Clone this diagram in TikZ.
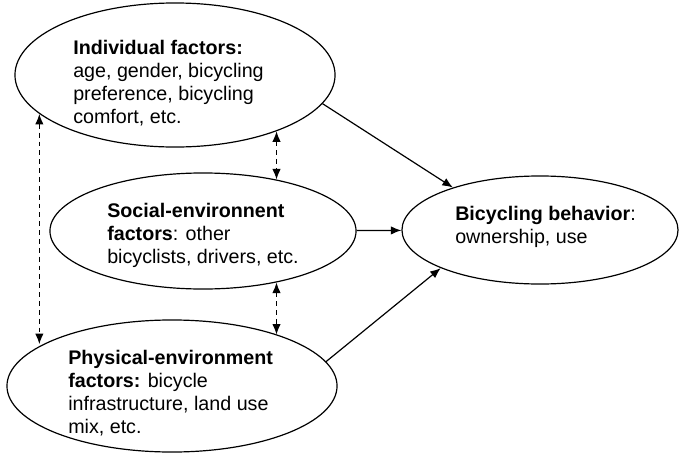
\documentclass[tikz,border=0pt]{standalone}
\usepackage{fontspec}
\setmainfont{Liberation Sans}
\usepackage{tikz}
\usetikzlibrary{shapes.geometric}
\usetikzlibrary{arrows.meta}
\def\fs{\fontsize{14}{16.4}\selectfont}

\begin{document}
\begin{tikzpicture}[x=0.025cm,y=-0.025cm,
    factor/.style={draw,ellipse,line width=0.85pt,inner sep=0pt},
    txt/.style={anchor=west,align=left,inner sep=0pt,font=\fs},
    link/.style={line width=0.85pt,->},
    mutual/.style={line width=0.9pt,<->,dash pattern=on 3.5pt off 2.8pt},
    >={Latex[length=7.5pt,width=6pt]}]

  \useasboundingbox (0,0) rectangle (680,454); %描画範囲

  % 個人要因
  \node[factor,minimum width=8cm,minimum height=3.6cm] (ind) at (175,75) {}; %楕円
  \node[txt] (indtxt) at (73,83) {\textbf{Individual factors:}\\age, gender, bicycling\\preference, bicycling\\comfort, etc.}; %文字

  % 社会環境要因
  \node[factor,minimum width=7.65cm,minimum height=2.9cm] (soc) at (203,231) {}; %楕円
  \node[txt] (soctxt) at (107,235) {\textbf{Social-environnent}\\\textbf{factors}: other\\bicyclists, drivers, etc.}; %文字

  % 物理環境要因
  \node[factor,minimum width=8.25cm,minimum height=3.3cm] (phys) at (172,386) {}; %楕円
  \node[txt] (phystxt) at (68,393) {\textbf{Physical-environment}\\\textbf{factors:} bicycle\\infrastructure, land use\\mix, etc.}; %文字

  % 自転車行動
  \node[factor,minimum width=6.9cm,minimum height=2.7cm] (beh) at (540,230) {}; %楕円
  \node[txt] (behtxt) at (455,227) {\textbf{Bicycling behavior}:\\ownership, use}; %文字

  % 行動への矢印
  \draw[link] (ind.-11.5)--(beh.154);
  \draw[link] (soc)--(beh);
  \draw[link] (phys.9)--(beh.-159.5);

  % 要因どうしの点線
  \draw[mutual] (ind.196)--(ind.196 |- phys.162);
  \draw[mutual] (ind.-29.5)--(ind.-29.5 |- soc.35.5);
  \draw[mutual] (soc.-35.7)--(soc.-35.7 |- phys.26);

\end{tikzpicture}
\end{document}
